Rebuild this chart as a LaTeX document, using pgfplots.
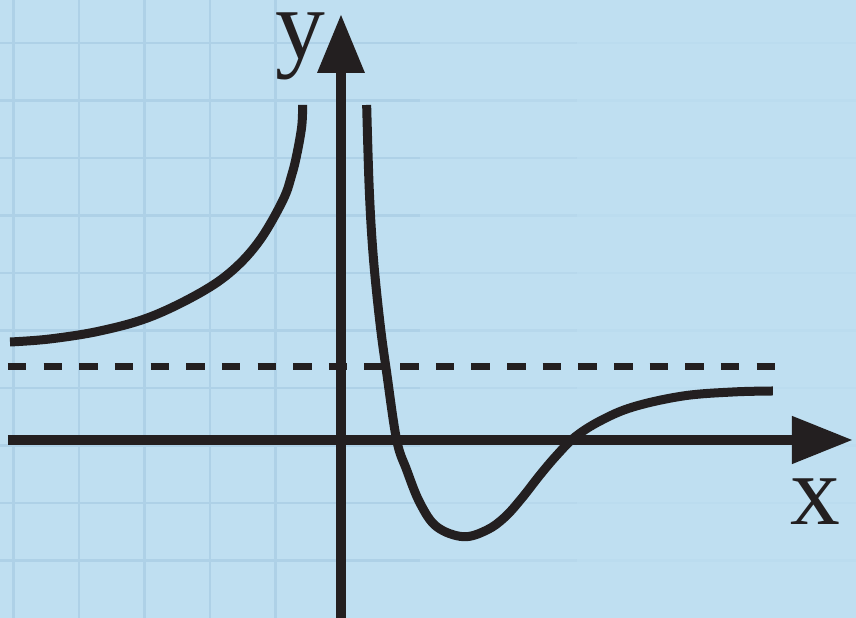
\documentclass[border=0pt]{standalone}
\usepackage{fontspec}
\setmainfont{Liberation Serif}
\usepackage{pgfplots}
\pgfplotsset{compat=1.18}

\definecolor{paper}{RGB}{191,223,241}
\definecolor{gridblue}{RGB}{174,209,231}
\definecolor{ink}{RGB}{35,31,32}

\begin{document}
\begin{tikzpicture}
\begin{axis}[
  width=856bp, height=618bp, scale only axis,
  xmin=-5.206, xmax=7.863, ymin=-3.096, ymax=7.652,
  axis lines=none, ticks=none,
  clip=true,
]
% paper background
\fill[paper] (rel axis cs:0,0) rectangle (rel axis cs:1,1);

% squared paper, fading out towards the right
\pgfplotsinvokeforeach{-5,-4,-3,-2,-1}{
  \draw[gridblue, line width=2.5bp] (axis cs:#1,-3.096) -- (axis cs:#1,7.652);
}
\pgfplotsinvokeforeach{-2.096,-1.096,-0.096,0.904,1.904,2.904,3.904,4.904,5.904,6.904}{
  \draw[gridblue, line width=2.5bp] (axis cs:-5.206,#1) -- (axis cs:1.2,#1);
  \draw[gridblue, line width=2.5bp, opacity=0.45] (axis cs:1.2,#1) -- (axis cs:3.6,#1);
  \draw[gridblue, line width=2.5bp, opacity=0.2] (axis cs:3.6,#1) -- (axis cs:7.863,#1);
}

% horizontal asymptote
\addplot[ink, line width=7bp, dash pattern=on 18.5bp off 17.15bp]
  coordinates {(-5.084,1.270) (6.625,1.270)};

% coordinate axes
\draw[ink, line width=10bp] (axis cs:-5.084,0) -- (axis cs:6.95,0);
\fill[ink] (axis cs:6.885,0.42) -- (axis cs:7.802,0) -- (axis cs:6.885,-0.42) -- cycle;
\draw[ink, line width=10bp] (axis cs:0,-3.096) -- (axis cs:0,6.45);
\fill[ink] (axis cs:-0.366,6.383) -- (axis cs:0,7.391) -- (axis cs:0.366,6.383) -- cycle;

% left branch
\addplot[ink, line width=9bp, smooth, tension=0.6] coordinates {
  (-5.053,1.704) (-4.443,1.757) (-3.679,1.896) (-2.916,2.139)
  (-2.153,2.557) (-1.649,2.957) (-1.237,3.478) (-0.885,4.174)
  (-0.753,4.605) (-0.676,4.957) (-0.600,5.449) (-0.585,5.826)
};

% right branch
\addplot[ink, line width=9bp, smooth, tension=0.6] coordinates {
  (0.392,5.826) (0.432,4.348) (0.493,3.188) (0.595,2.035)
  (0.698,1.165) (0.850,0) (1.003,-0.522) (1.206,-1.096)
  (1.461,-1.508) (1.867,-1.682) (2.229,-1.565) (2.504,-1.339)
  (2.763,-1.009) (3.038,-0.609) (3.298,-0.261) (3.573,0.052)
  (3.954,0.330) (4.458,0.574) (5.221,0.765) (5.985,0.835)
  (6.595,0.852)
};

% axis names
\node[ink, anchor=base, inner sep=0pt, font=\fontsize{100}{100}\selectfont]
  at (axis cs:-0.626,6.643) {y};
\node[ink, anchor=base, inner sep=0pt, font=\fontsize{100}{100}\selectfont]
  at (axis cs:7.237,-1.478) {x};
\end{axis}
\end{tikzpicture}
\end{document}
